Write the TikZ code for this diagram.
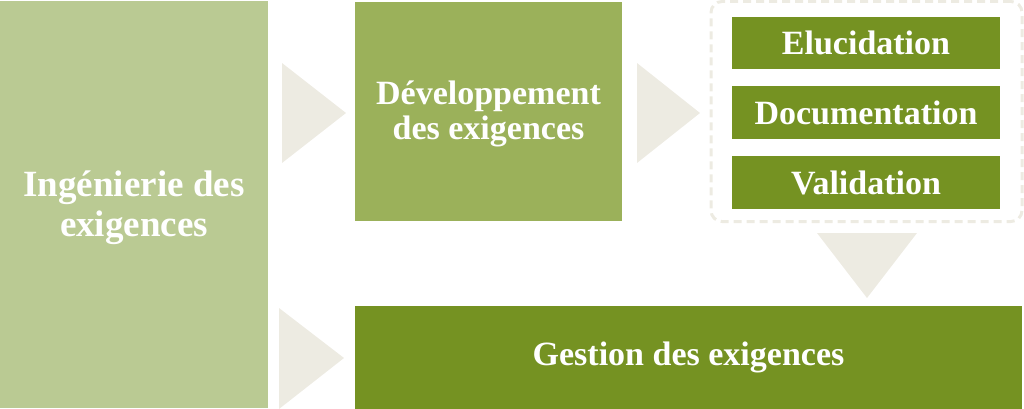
\documentclass[tikz,border=0pt]{standalone}
\usepackage{fontspec}
\setmainfont{Liberation Serif}
\definecolor{lightg}{HTML}{BACA93}
\definecolor{midg}{HTML}{9BB15A}
\definecolor{darkg}{HTML}{759222}
\definecolor{beige}{HTML}{EDEBE2}
\tikzset{
  box/.style={fill=#1, draw=none, text=white, align=center, inner sep=0pt,
    font=\fontsize{34}{36}\selectfont\bfseries},
  chevron/.style={fill=beige, draw=none},
}
\begin{document}
\begin{tikzpicture}[x=1pt,y=-1pt]
\useasboundingbox (0,0) rectangle (1024,409);
% boxes
\node[box=lightg, minimum width=268pt, minimum height=407pt] (ing) at (134,204.5) {};
\node[text=white, align=center, inner sep=0pt, font=\fontsize{37}{40}\selectfont\bfseries]
  (ingt) at (134,208) {Ingénierie des\\exigences};
\node[box=midg, minimum width=267pt, minimum height=219pt] (dev) at (488.5,111.5) {};
\node[text=white, align=center, inner sep=0pt, font=\fontsize{34}{35}\selectfont\bfseries]
  (devt) at (488.5,114) {Développement\\des exigences};
\node[box=darkg, minimum width=667pt, minimum height=103pt] (ges) at (688.5,357.5) {Gestion des exigences};
% dashed group
\node[draw=beige, line width=3pt, dash pattern=on 8pt off 5pt, rounded corners=11pt,
  minimum width=311pt, minimum height=220pt, inner sep=0pt] (grp) at (866.5,111.5) {};
\node[box=darkg, minimum width=268pt, minimum height=52pt] (elu) at (866,43) {Elucidation};
\node[box=darkg, minimum width=268pt, minimum height=53pt] (doc) at (866,112.5) {Documentation};
\node[box=darkg, minimum width=268pt, minimum height=53pt] (val) at (866,182.5) {Validation};
% chevrons
\fill[chevron] (282,63) -- (346,113) -- (282,163) -- cycle;
\fill[chevron] (637,63) -- (700,113) -- (637,163) -- cycle;
\fill[chevron] (279,308) -- (344,358) -- (279,409) -- cycle;
\fill[chevron] (817,233) -- (917,233) -- (867,298) -- cycle;
\end{tikzpicture}
\end{document}
